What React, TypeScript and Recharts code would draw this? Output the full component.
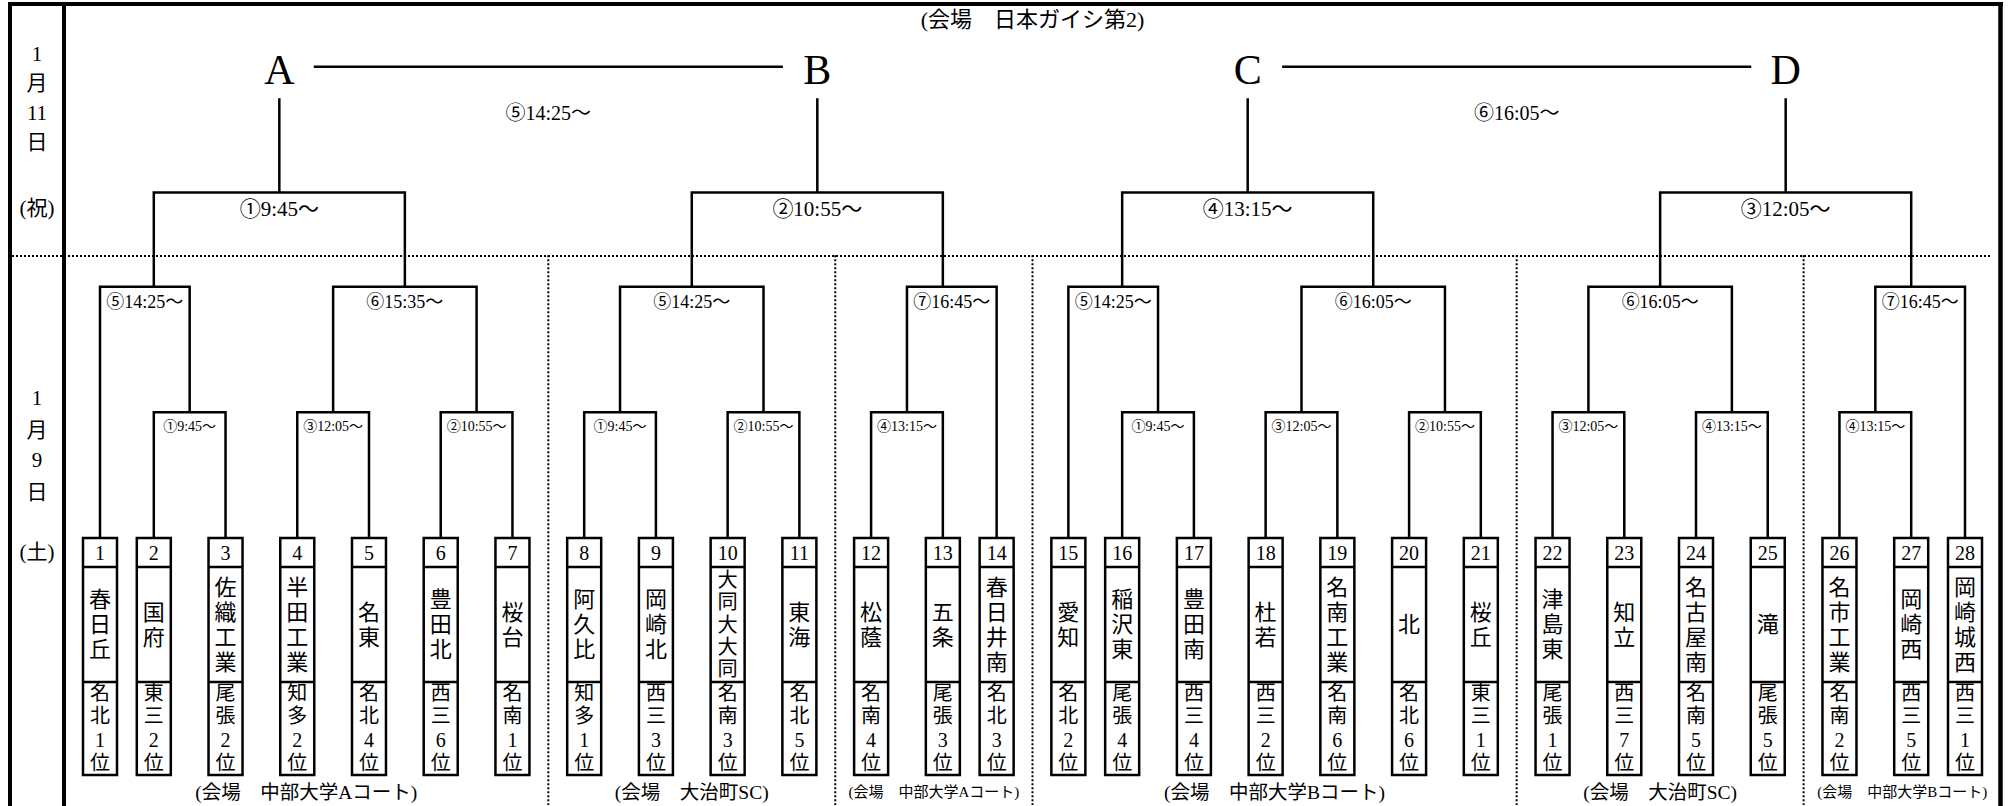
import React from 'react'
import { ComposedChart, Line, Scatter, XAxis, YAxis, Customized } from 'recharts'

const teamNumbers = [1, 2, 3, 4, 5, 6, 7, 8, 9, 10, 11, 12, 13, 14, 15, 16, 17, 18, 19, 20, 21, 22, 23, 24, 25, 26, 27, 28]
const schools = ['春日丘', '国府', '佐織工業', '半田工業', '名東', '豊田北', '桜台', '阿久比', '岡崎北', '大同大大同', '東海', '松蔭', '五条', '春日井南', '愛知', '稲沢東', '豊田南', '杜若', '名南工業', '北', '桜丘', '津島東', '知立', '名古屋南', '滝', '名市工業', '岡崎西', '岡崎城西']
const qualifiers = ['名北1位', '東三2位', '尾張2位', '知多2位', '名北4位', '西三6位', '名南1位', '知多1位', '西三3位', '名南3位', '名北5位', '名南4位', '尾張3位', '名北3位', '名北2位', '尾張4位', '西三4位', '西三2位', '名南6位', '名北6位', '東三1位', '尾張1位', '西三7位', '名南5位', '尾張5位', '名南2位', '西三5位', '西三1位']

type Side = number | string
type Match = { id: string; time: string; home: Side; away: Side }

// 1月9日(土) 1回戦
const round1: Match[] = [
  { id: 'a1', time: '①9:45～', home: 2, away: 3 },
  { id: 'a3', time: '③12:05～', home: 4, away: 5 },
  { id: 'a2', time: '②10:55～', home: 6, away: 7 },
  { id: 'b1', time: '①9:45～', home: 8, away: 9 },
  { id: 'b2', time: '②10:55～', home: 10, away: 11 },
  { id: 'b4', time: '④13:15～', home: 12, away: 13 },
  { id: 'c1', time: '①9:45～', home: 16, away: 17 },
  { id: 'c3', time: '③12:05～', home: 18, away: 19 },
  { id: 'c2', time: '②10:55～', home: 20, away: 21 },
  { id: 'd3', time: '③12:05～', home: 22, away: 23 },
  { id: 'd4', time: '④13:15～', home: 24, away: 25 },
  { id: 'e4', time: '④13:15～', home: 26, away: 27 },
]

// 1月9日(土) 2回戦
const round2: Match[] = [
  { id: 'a5', time: '⑤14:25～', home: 1, away: 'a1' },
  { id: 'a6', time: '⑥15:35～', home: 'a3', away: 'a2' },
  { id: 'b5', time: '⑤14:25～', home: 'b1', away: 'b2' },
  { id: 'b7', time: '⑦16:45～', home: 'b4', away: 14 },
  { id: 'c5', time: '⑤14:25～', home: 15, away: 'c1' },
  { id: 'c6', time: '⑥16:05～', home: 'c3', away: 'c2' },
  { id: 'd6', time: '⑥16:05～', home: 'd3', away: 'd4' },
  { id: 'e7', time: '⑦16:45～', home: 'e4', away: 28 },
]

// 1月11日(祝)
const round3: Match[] = [
  { id: 'A', time: '①9:45～', home: 'a5', away: 'a6' },
  { id: 'B', time: '②10:55～', home: 'b5', away: 'b7' },
  { id: 'C', time: '④13:15～', home: 'c5', away: 'c6' },
  { id: 'D', time: '③12:05～', home: 'd6', away: 'e7' },
]
const finals: Match[] = [
  { id: 'AB', time: '⑤14:25～', home: 'A', away: 'B' },
  { id: 'CD', time: '⑥16:05～', home: 'C', away: 'D' },
]

const venueNames = ['(会場　中部大学Aコート)', '(会場　大治町SC)', '(会場　中部大学Aコート)', '(会場　中部大学Bコート)', '(会場　大治町SC)', '(会場　中部大学Bコート)']
const venueFirst = [1, 8, 12, 15, 22, 26]
const venueLast = [7, 11, 14, 21, 25, 28]
const finalVenue = '(会場　日本ガイシ第2)'

const dayChars = [['1', '月', '11', '日'], ['1', '月', '9', '日']]
const weekdays = ['(祝)', '(土)']

// ---- layout ----
const FONT = "'Liberation Serif', 'Noto Sans CJK JP', serif"
const INK = '#000'
const LW = 2.5
const TEAM_ROW = 14
const ROUND_ROW = [10, 6, 3, 0]
const FINAL_ROW = -1
const SPLIT_ROW = 5
const BOTTOM_ROW = 22.5
const LETTER_GAP = 0.48
const LABEL_STYLE = [
  { dy: 14, size: 14 },
  { dy: 15, size: 18 },
  { dy: 17, size: 21 },
  { dy: 46, size: 20 },
]

const allRounds = [round1, round2, round3, finals]
const roundIndex = new Map<string, number>()
const matchById = new Map<string, Match>()
allRounds.forEach((r, i) => r.forEach((m) => { roundIndex.set(m.id, i); matchById.set(m.id, m) }))

const venueOf = (t: number) => venueFirst.findIndex((f, i) => t >= f && t <= venueLast[i])
const byes = new Set(round2.flatMap((m) => [m.home, m.away]).filter((s) => typeof s === 'number'))

// byes sit closer to the pair next to them
const teamX: number[] = []
teamNumbers.forEach((t, i) => {
  if (i === 0) { teamX.push(0); return }
  const prev = teamNumbers[i - 1]
  const tight = (byes.has(t) || byes.has(prev)) && venueOf(t) === venueOf(prev)
  teamX.push(teamX[i - 1] + (tight ? 0.75 : 1))
})

function leaves(s: Side): number[] {
  if (typeof s === 'number') return [s]
  const m = matchById.get(s)!
  return [...leaves(m.home), ...leaves(m.away)]
}
function nearest(list: number[], t: number) {
  return list.reduce((b, c) => (Math.abs(teamX[c - 1] - teamX[t - 1]) < Math.abs(teamX[b - 1] - teamX[t - 1]) ? c : b))
}
function upX(m: Match): number {
  const h = m.home, a = m.away
  if (typeof h === 'number' && typeof a !== 'number') return teamX[nearest(leaves(a), h) - 1]
  if (typeof a === 'number' && typeof h !== 'number') return teamX[nearest(leaves(h), a) - 1]
  return (sideX(h) + sideX(a)) / 2
}
function sideX(s: Side): number {
  return typeof s === 'number' ? teamX[s - 1] : upX(matchById.get(s)!)
}
function sideRow(s: Side): number {
  return typeof s === 'number' ? TEAM_ROW : ROUND_ROW[roundIndex.get(s)!]
}

function bracket(m: Match, r: number) {
  const hx = sideX(m.home), ax = sideX(m.away)
  const row = ROUND_ROW[r]
  if (r < 3) {
    return [
      { x: hx, y: sideRow(m.home) },
      { x: hx, y: row },
      { x: ax, y: row },
      { x: ax, y: sideRow(m.away) },
    ]
  }
  return [
    { x: hx, y: sideRow(m.home) },
    { x: hx, y: row },
    { x: hx, y: null },
    { x: hx + LETTER_GAP, y: FINAL_ROW },
    { x: ax - LETTER_GAP, y: FINAL_ROW },
    { x: ax, y: null },
    { x: ax, y: row },
    { x: ax, y: sideRow(m.away) },
  ]
}

const teamPoints = teamNumbers.map((n, i) => ({ x: teamX[i], y: TEAM_ROW, no: n, name: schools[i], qual: qualifiers[i] }))
const labelPoints = allRounds.map((r, i) =>
  r.map((m) => ({
    x: i === 2 ? upX(m) : (sideX(m.home) + sideX(m.away)) / 2,
    y: i === 3 ? FINAL_ROW : ROUND_ROW[i],
    text: m.time,
  }))
)
const letterPoints = round3.map((m) => ({ x: upX(m), y: FINAL_ROW, text: m.id }))
const venuePoints = venueNames.map((v, i) => ({
  x: (teamX[venueFirst[i] - 1] + teamX[venueLast[i] - 1]) / 2,
  y: TEAM_ROW,
  text: v,
  count: venueLast[i] - venueFirst[i] + 1,
}))
const finalVenuePoint = [{ x: (teamX[0] + teamX[teamX.length - 1]) / 2, y: FINAL_ROW, text: finalVenue }]
const separators = venueFirst.slice(1).map((f) => (teamX[f - 2] + teamX[f - 1]) / 2)

function TeamBox(props: any) {
  const { cx, cy, payload } = props
  const w = 17
  const numB = cy + 29
  const nameB = cy + 144
  const bottom = cy + 237
  const name: string = payload.name
  const step = Math.min(25, 112 / name.length)
  const fs = Math.min(22, step * 0.9)
  const nameMid = (numB + nameB) / 2
  const qual = Array.from(payload.qual as string)
  return (
    <g>
      <rect x={cx - w} y={cy} width={2 * w} height={bottom - cy} stroke={INK} strokeWidth={LW} fill="none" />
      <path d={`M${cx - w},${numB}H${cx + w}M${cx - w},${nameB}H${cx + w}`} stroke={INK} strokeWidth={LW} fill="none" />
      <text x={cx} y={cy + 15} textAnchor="middle" dominantBaseline="central" fontFamily={FONT} fontSize={20} fill={INK}>
        {payload.no}
      </text>
      {Array.from(name).map((c, k) => (
        <text key={k} x={cx} y={nameMid + (k - (name.length - 1) / 2) * step} textAnchor="middle" dominantBaseline="central" fontFamily={FONT} fontSize={fs} fill={INK}>
          {c}
        </text>
      ))}
      {qual.map((c, k) => (
        <text key={k} x={cx} y={nameB + 46 + (k - (qual.length - 1) / 2) * 23.3} textAnchor="middle" dominantBaseline="central" fontFamily={FONT} fontSize={20} fill={INK}>
          {c}
        </text>
      ))}
    </g>
  )
}

const labelShape = (dy: number, size: number) => (props: any) => (
  <text x={props.cx} y={props.cy + dy} textAnchor="middle" dominantBaseline="central" fontFamily={FONT} fontSize={size} fill={INK}>
    {props.payload.text}
  </text>
)

const VenueLabel = (props: any) => (
  <text x={props.cx} y={props.cy + 254} textAnchor="middle" dominantBaseline="central" fontFamily={FONT} fontSize={props.payload.count <= 3 ? 15 : 19.5} fill={INK}>
    {props.payload.text}
  </text>
)

const Letter = (props: any) => (
  <text x={props.cx} y={props.cy + 3} textAnchor="middle" dominantBaseline="central" fontFamily={FONT} fontSize={42} fill={INK}>
    {props.payload.text}
  </text>
)

function Frame() {
  const upper = [54, 83, 113, 142]
  const lower = [398, 430, 460, 492]
  return (
    <g>
      <line x1={8} y1={4} x2={2003} y2={4} stroke={INK} strokeWidth={4} />
      <line x1={10} y1={2} x2={10} y2={806} stroke={INK} strokeWidth={4} />
      <line x1={64} y1={2} x2={64} y2={806} stroke={INK} strokeWidth={4} />
      <line x1={2000.5} y1={2} x2={2000.5} y2={806} stroke={INK} strokeWidth={4.5} />
      <line x1={12} y1={256} x2={1992} y2={256} stroke={INK} strokeWidth={2} strokeDasharray="2 2" />
      {dayChars[0].map((c, i) => (
        <text key={'u' + i} x={37} y={upper[i]} textAnchor="middle" dominantBaseline="central" fontFamily={FONT} fontSize={21} fill={INK}>{c}</text>
      ))}
      <text x={37} y={208} textAnchor="middle" dominantBaseline="central" fontFamily={FONT} fontSize={21} fill={INK}>{weekdays[0]}</text>
      {dayChars[1].map((c, i) => (
        <text key={'l' + i} x={37} y={lower[i]} textAnchor="middle" dominantBaseline="central" fontFamily={FONT} fontSize={21} fill={INK}>{c}</text>
      ))}
      <text x={37} y={552} textAnchor="middle" dominantBaseline="central" fontFamily={FONT} fontSize={21} fill={INK}>{weekdays[1]}</text>
    </g>
  )
}

export default function App() {
  return (
    <div style={{ position: 'absolute', left: 0, top: 0, width: 2010, height: 806, background: '#fff' }}>
      <ComposedChart width={2010} height={806} margin={{ top: 4, right: 45, bottom: 1, left: 100 }}>
        <XAxis type="number" dataKey="x" domain={[0, 26]} hide />
        <YAxis type="number" dataKey="y" domain={[-3, BOTTOM_ROW]} reversed hide />
        <Customized component={Frame} />
        {separators.map((sx, i) => (
          <Line
            key={'sep' + i}
            data={[{ x: sx, y: SPLIT_ROW }, { x: sx, y: BOTTOM_ROW }]}
            dataKey="y"
            stroke={INK}
            strokeWidth={2}
            strokeDasharray="2 2"
            dot={false}
            isAnimationActive={false}
          />
        ))}
        {allRounds.map((r, ri) =>
          r.map((m) => (
            <Line
              key={'br' + m.id}
              data={bracket(m, ri)}
              dataKey="y"
              stroke={INK}
              strokeWidth={LW}
              dot={false}
              connectNulls={false}
              isAnimationActive={false}
            />
          ))
        )}
        <Scatter data={teamPoints} shape={TeamBox} isAnimationActive={false} />
        {labelPoints.map((pts, i) => (
          <Scatter key={'lab' + i} data={pts} shape={labelShape(LABEL_STYLE[i].dy, LABEL_STYLE[i].size)} isAnimationActive={false} />
        ))}
        <Scatter data={letterPoints} shape={Letter} isAnimationActive={false} />
        <Scatter data={venuePoints} shape={VenueLabel} isAnimationActive={false} />
        <Scatter data={finalVenuePoint} shape={labelShape(-47, 22)} isAnimationActive={false} />
      </ComposedChart>
    </div>
  )
}
